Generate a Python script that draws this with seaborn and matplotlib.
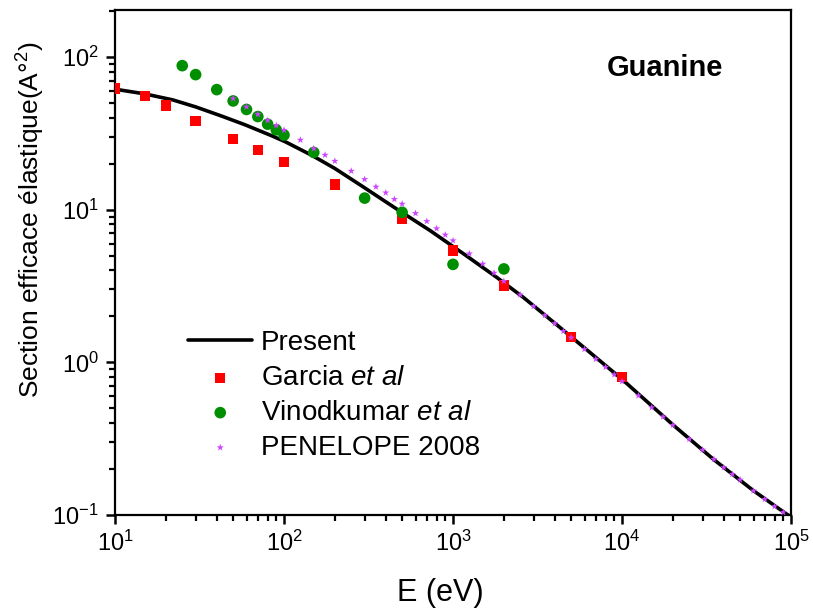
import numpy as np
import pandas as pd
import matplotlib
matplotlib.use("Agg")
import matplotlib.pyplot as plt
from matplotlib.ticker import LogLocator, NullFormatter
import seaborn as sns

# ---- data ----
present_E = [10, 15, 22, 30, 43, 59, 85, 102, 147, 200, 294, 464, 731, 1151, 1815,
             2610, 4300, 10000, 20000, 34700, 59600, 90000, 100000]
present_s = [61.5, 57.3, 52.3, 47.1, 40.9, 35.9, 30.4, 27.8, 22.6, 18.6, 14.1, 10.1,
             7.3, 5.15, 3.6, 2.66, 1.69, 0.775, 0.39, 0.232, 0.145, 0.105, 0.097]

garcia_E = [10, 15, 20, 30, 50, 70, 100, 200, 500, 1000, 2000, 5000, 10000]
garcia_s = [62, 55.5, 48, 38, 29, 24.7, 20.6, 14.6, 8.7, 5.4, 3.18, 1.46, 0.80]

vinod_E = [25, 30, 40, 50, 60, 70, 80, 90, 100, 150, 300, 500, 1000, 2000]
vinod_s = [87.7, 76.6, 61.1, 51.5, 45.3, 40.7, 36.3, 33.3, 30.8, 23.7, 11.9, 9.6, 4.38, 4.09]

pen_E = [50, 60, 70, 80, 90, 100, 125, 150, 175, 200, 250, 300, 350, 400, 450, 500,
         600, 700, 800, 900, 1000, 1250, 1500, 1750, 2000, 2500, 3000, 3500, 4000,
         4500, 5000, 6000, 7000, 8000, 9000, 10000, 12500, 15000, 17500, 20000,
         25000, 30000, 35000, 40000, 45000, 50000, 60000, 70000, 80000, 90000]
pen_s = [53.4, 47.1, 42.1, 38.4, 35.6, 33.2, 28.6, 25.1, 22.8, 20.8, 17.9, 15.8, 14.1,
         12.9, 11.7, 10.9, 9.46, 8.39, 7.52, 6.84, 6.27, 5.15, 4.41, 3.85, 3.40, 2.77,
         2.33, 2.03, 1.80, 1.60, 1.45, 1.22, 1.05, 0.93, 0.83, 0.75, 0.605, 0.506,
         0.44, 0.388, 0.314, 0.267, 0.232, 0.205, 0.185, 0.170, 0.144, 0.127, 0.114,
         0.104]

labels = ["Present", "Garcia $\\it{et\\ al}$", "Vinodkumar $\\it{et\\ al}$", "PENELOPE 2008"]

sns.set_theme(style="ticks")
plt.rcParams["font.family"] = ["Liberation Sans", "DejaVu Sans"]
plt.rcParams["mathtext.fontset"] = "custom"
plt.rcParams["mathtext.rm"] = "Liberation Sans"
plt.rcParams["mathtext.it"] = "Liberation Sans:italic"
plt.rcParams["mathtext.bf"] = "Liberation Sans:bold"
plt.rcParams["mathtext.default"] = "regular"
for k in ["text.color", "axes.labelcolor", "xtick.color", "ytick.color", "axes.edgecolor"]:
    plt.rcParams[k] = "black"

fig = plt.figure(figsize=(8.13, 6.12), dpi=100)
ax = fig.add_axes([115 / 813, 1 - 515 / 612, 676 / 813, 505 / 612])

df_p = pd.DataFrame({"E": present_E, "s": present_s})
df_g = pd.DataFrame({"E": garcia_E, "s": garcia_s})
df_v = pd.DataFrame({"E": vinod_E, "s": vinod_s})
df_n = pd.DataFrame({"E": pen_E, "s": pen_s})

sns.lineplot(data=df_p, x="E", y="s", ax=ax, color="black", linewidth=2.6,
             label=labels[0], zorder=2)
sns.scatterplot(data=df_g, x="E", y="s", ax=ax, marker="s", s=55, color="#FF0000",
                edgecolor="none", label=labels[1], zorder=3)
sns.scatterplot(data=df_v, x="E", y="s", ax=ax, marker="o", s=70, color="#008F00",
                edgecolor="none", label=labels[2], zorder=3)
sns.scatterplot(data=df_n, x="E", y="s", ax=ax, marker="*", s=30, color="#CC44FF",
                edgecolor="none", label=labels[3], zorder=4)

ax.set_xscale("log")
ax.set_yscale("log")
ax.set_xlim(10, 1e5)
ax.set_ylim(0.1, 203)

for axis in (ax.xaxis, ax.yaxis):
    axis.set_major_locator(LogLocator(base=10, numticks=20))
    axis.set_minor_locator(LogLocator(base=10, subs=np.arange(2, 10), numticks=100))
    axis.set_minor_formatter(NullFormatter())

ax.set_xlabel("E (eV)", fontsize=22, labelpad=16)
ax.xaxis.label.set_x((440 - 115) / 676)
ax.set_ylabel("Section efficace élastique(A°$^{2}$)", fontsize=19, labelpad=4)
ax.yaxis.label.set_y((515 - 220) / 505)

for sp in ax.spines.values():
    sp.set_linewidth(1.6)
    sp.set_color("black")
ax.tick_params(axis="both", which="major", direction="out", length=6.5, width=1.8,
               labelsize=17, color="black", pad=5)
ax.tick_params(axis="both", which="minor", direction="out", length=4, width=1.6,
               color="black")
ax.tick_params(top=False, right=False, which="both")

ax.text((665 - 115) / 676, (515 - 76) / 505, "Guanine", transform=ax.transAxes,
        fontsize=21, fontweight="bold", ha="center", va="baseline")

leg = ax.legend(loc="upper left", bbox_to_anchor=(0.092, 0.388), frameon=False,
                fontsize=20, handlelength=2.3, handletextpad=0.3,
                labelspacing=0.32, borderaxespad=0)

fig.savefig("out.png", dpi=100)
